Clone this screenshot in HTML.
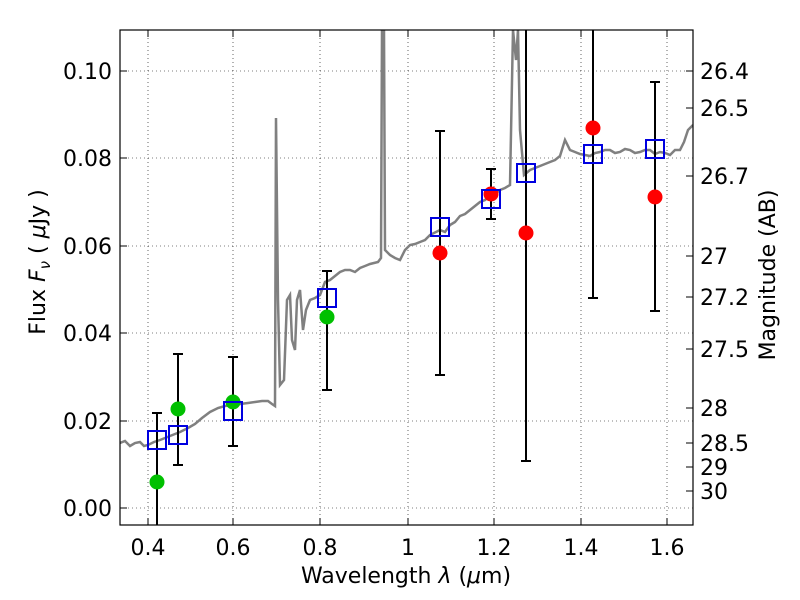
<!DOCTYPE html>
<html><head><meta charset="utf-8"><style>body{margin:0;background:#fff}svg{display:block}text{font-family:"DejaVu Sans","Liberation Sans",sans-serif;font-size:22px;fill:#000}</style></head>
<body>
<svg width="800" height="600" viewBox="0 0 800 600" xmlns="http://www.w3.org/2000/svg">
<defs><clipPath id="c"><rect x="120" y="30" width="573" height="495"/></clipPath></defs>
<g stroke="#000" stroke-width="0.6" stroke-dasharray="1,3">
<line x1="148" y1="30" x2="148" y2="525"/><line x1="233" y1="30" x2="233" y2="525"/><line x1="320" y1="30" x2="320" y2="525"/><line x1="408" y1="30" x2="408" y2="525"/><line x1="494" y1="30" x2="494" y2="525"/><line x1="581" y1="30" x2="581" y2="525"/><line x1="667" y1="30" x2="667" y2="525"/>
<line x1="120" y1="508" x2="693" y2="508"/><line x1="120" y1="421" x2="693" y2="421"/><line x1="120" y1="333" x2="693" y2="333"/><line x1="120" y1="246" x2="693" y2="246"/><line x1="120" y1="158" x2="693" y2="158"/><line x1="120" y1="71" x2="693" y2="71"/>
</g>
<g clip-path="url(#c)">
<polyline fill="none" stroke="#808080" stroke-width="2.5" points="120,443 125,441 130,446 135,443 140,442 144,446 148,445 154,442 160,440 165,438 170,436 175,434 180,432 188,428 195,424 202,418 210,412 218,408 225,406 232,405 240,404 248,403 255,402 262,401 268,401 272,404 275,406 276,118 278,300 280,385 284,380 287,300 290,295 292,340 295,350 297,300 300,290 303,330 306,310 310,300 315,298 320,295 325,282 330,280 335,276 340,272 345,270 350,270 355,272 360,268 365,266 370,264 378,262 381,258 382,30 384,30 385,250 390,255 395,258 400,260 405,250 410,245 415,244 420,242 425,240 430,235 440,230 445,232 450,225 455,222 460,216 465,214 470,210 480,202 485,200 490,195 495,194 500,190 505,188 510,185 513,30 516,60 518,30 520,130 524,175 530,170 535,168 540,166 550,162 555,160 560,156 565,140 570,150 575,152 580,154 585,155 590,156 595,153 600,152 605,150 610,150 615,153 620,152 625,149 630,150 635,153 640,152 645,150 650,150 655,154 660,152 665,153 670,155 675,150 680,150 684,142 688,130 693,125"/>
</g>
<g stroke="#000" stroke-width="2">
<line x1="157" y1="413" x2="157" y2="525"/><line x1="152" y1="413" x2="162" y2="413"/>
<line x1="178" y1="354" x2="178" y2="465"/><line x1="173" y1="354" x2="183" y2="354"/><line x1="173" y1="465" x2="183" y2="465"/>
<line x1="233" y1="357" x2="233" y2="446"/><line x1="228" y1="357" x2="238" y2="357"/><line x1="228" y1="446" x2="238" y2="446"/>
<line x1="327" y1="271" x2="327" y2="390"/><line x1="322" y1="271" x2="332" y2="271"/><line x1="322" y1="390" x2="332" y2="390"/>
<line x1="440" y1="131" x2="440" y2="375"/><line x1="435" y1="131" x2="445" y2="131"/><line x1="435" y1="375" x2="445" y2="375"/>
<line x1="491" y1="169" x2="491" y2="219"/><line x1="486" y1="169" x2="496" y2="169"/><line x1="486" y1="219" x2="496" y2="219"/>
<line x1="526" y1="30" x2="526" y2="461"/><line x1="521" y1="461" x2="531" y2="461"/>
<line x1="593" y1="30" x2="593" y2="298"/><line x1="588" y1="298" x2="598" y2="298"/>
<line x1="655" y1="82" x2="655" y2="311"/><line x1="650" y1="82" x2="660" y2="82"/><line x1="650" y1="311" x2="660" y2="311"/>
</g>
<g fill="#00c000"><circle cx="157" cy="482" r="7.5"/><circle cx="178" cy="409" r="7.5"/><circle cx="233" cy="402" r="7.5"/><circle cx="327" cy="317" r="7.5"/></g>
<g fill="#f00"><circle cx="440" cy="253" r="7.5"/><circle cx="491" cy="194" r="7.5"/><circle cx="526" cy="233" r="7.5"/><circle cx="593" cy="128" r="7.5"/><circle cx="655" cy="197" r="7.5"/></g>
<g fill="none" stroke="#0000e0" stroke-width="2">
<rect x="148" y="431" width="18" height="18"/><rect x="169" y="426" width="18" height="18"/><rect x="224" y="402" width="18" height="18"/><rect x="318" y="289" width="18" height="18"/><rect x="431" y="218" width="18" height="18"/><rect x="482" y="190" width="18" height="18"/><rect x="517" y="164" width="18" height="18"/><rect x="584" y="145" width="18" height="18"/><rect x="646" y="140" width="18" height="18"/>
</g>
<rect x="120" y="30" width="573" height="495" fill="none" stroke="#000" stroke-width="1.2"/>
<g stroke="#000" stroke-width="1">
<line x1="148" y1="525" x2="148" y2="518"/><line x1="233" y1="525" x2="233" y2="518"/><line x1="320" y1="525" x2="320" y2="518"/><line x1="408" y1="525" x2="408" y2="518"/><line x1="494" y1="525" x2="494" y2="518"/><line x1="581" y1="525" x2="581" y2="518"/><line x1="667" y1="525" x2="667" y2="518"/>
<line x1="148" y1="30" x2="148" y2="37"/><line x1="233" y1="30" x2="233" y2="37"/><line x1="320" y1="30" x2="320" y2="37"/><line x1="408" y1="30" x2="408" y2="37"/><line x1="494" y1="30" x2="494" y2="37"/><line x1="581" y1="30" x2="581" y2="37"/><line x1="667" y1="30" x2="667" y2="37"/>
<line x1="120" y1="508" x2="127" y2="508"/><line x1="120" y1="421" x2="127" y2="421"/><line x1="120" y1="333" x2="127" y2="333"/><line x1="120" y1="246" x2="127" y2="246"/><line x1="120" y1="158" x2="127" y2="158"/><line x1="120" y1="71" x2="127" y2="71"/>
<line x1="693" y1="71" x2="686" y2="71"/><line x1="693" y1="108" x2="686" y2="108"/><line x1="693" y1="176" x2="686" y2="176"/><line x1="693" y1="256" x2="686" y2="256"/><line x1="693" y1="297" x2="686" y2="297"/><line x1="693" y1="349" x2="686" y2="349"/><line x1="693" y1="408" x2="686" y2="408"/><line x1="693" y1="443" x2="686" y2="443"/><line x1="693" y1="467" x2="686" y2="467"/><line x1="693" y1="491" x2="686" y2="491"/>
</g>
<g text-anchor="middle">
<text x="148" y="555">0.4</text><text x="233" y="555">0.6</text><text x="320" y="555">0.8</text><text x="408" y="555">1</text><text x="494" y="555">1.2</text><text x="581" y="555">1.4</text><text x="667" y="555">1.6</text>
<text x="406" y="583">Wavelength  <tspan font-style="italic">λ</tspan> (<tspan font-style="italic">μ</tspan>m)</text>
</g>
<g text-anchor="end">
<text x="112" y="516">0.00</text><text x="112" y="429">0.02</text><text x="112" y="341">0.04</text><text x="112" y="254">0.06</text><text x="112" y="166">0.08</text><text x="112" y="79">0.10</text>
</g>
<g>
<text x="700" y="79">26.4</text><text x="700" y="116">26.5</text><text x="700" y="184">26.7</text><text x="700" y="264">27</text><text x="700" y="305">27.2</text><text x="700" y="357">27.5</text><text x="700" y="416">28</text><text x="700" y="451">28.5</text><text x="700" y="475">29</text><text x="700" y="499">30</text>
</g>
<text transform="translate(45,262) rotate(-90)" text-anchor="middle">Flux  <tspan font-style="italic">F</tspan><tspan font-style="italic" font-size="15" dy="5">ν</tspan><tspan dy="-5">  ( </tspan><tspan font-style="italic">μ</tspan>Jy )</text>
<text transform="translate(775,275) rotate(-90)" text-anchor="middle">Magnitude (AB)</text>
</svg>
</body></html>
